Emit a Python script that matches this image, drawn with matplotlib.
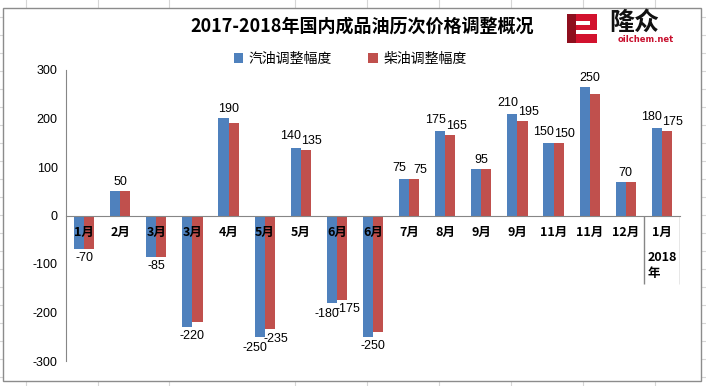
import matplotlib
matplotlib.use("Agg")
import matplotlib.pyplot as plt
from matplotlib.patches import Rectangle, Polygon
import numpy as np

plt.rcParams['font.family'] = ['Noto Sans CJK SC', 'DejaVu Sans']
plt.rcParams['axes.unicode_minus'] = False

# ---- data ----
TITLE = "2017-2018年国内成品油历次价格调整概况"
SERIES = ["汽油调整幅度", "柴油调整幅度"]
MONTHS = ["1月", "2月", "3月", "3月", "4月", "5月", "5月", "6月", "6月",
          "7月", "8月", "9月", "9月", "11月", "11月", "12月", "1月"]
YEAR_GROUP = "2018\n年"
GASOLINE = [-70, 50, -85, -230, 200, -250, 140, -180, -250,
            75, 175, 95, 210, 150, 265, 70, 180]
DIESEL = [-70, 50, -85, -220, 190, -235, 135, -175, -240,
          75, 165, 95, 195, 150, 250, 70, 175]
GAS_LABELS = ["-70", "50", "-85", "-220", "190", "-250", "140", "-180", "-250",
              "75", "175", "95", "210", "150", "250", "70", "180"]
DIESEL_LABELS = ["", "", "", "", "", "-235", "135", "-175", "",
                 "75", "165", "", "195", "150", "", "", "175"]
YTICKS = [-300, -200, -100, 0, 100, 200, 300]

C_BLUE = "#4F81BD"
C_RED = "#C0504D"
C_AXIS = "#868686"
C_SHEET = "#d6d6d6"

W, H = 706, 386
fig = plt.figure(figsize=(W / 100, H / 100), dpi=100)

# ---- spreadsheet backdrop + chart area (pixel coords) ----
bg = fig.add_axes([0, 0, 1, 1])
bg.set_xlim(0, W)
bg.set_ylim(H, 0)
bg.axis("off")
for x in [26, 98, 169, 295, 367, 439, 511, 583, 655]:
    bg.plot([x, x], [0, H], color=C_SHEET, lw=0.8)
for y in np.arange(17.3, H, 18):
    bg.plot([0, W], [y, y], color=C_SHEET, lw=0.8)
bg.add_patch(Rectangle((3, 8), 698, 373, facecolor="white",
                       edgecolor="#8c8c8c", lw=1.0, zorder=3))

# logo
bg.add_patch(Rectangle((567, 14), 30, 29, facecolor="#d2122e", lw=0, zorder=4))
bg.add_patch(Polygon([(567, 14), (576, 14), (576, 43), (567, 43)],
                     closed=True, facecolor="#8e0f1e", lw=0, zorder=4))
bg.add_patch(Rectangle((576, 21), 14, 4, facecolor="white", lw=0, zorder=5))
bg.add_patch(Rectangle((576, 30), 21, 4, facecolor="white", lw=0, zorder=5))
bg.text(609, 23, "隆众", fontsize=18, fontweight="bold", ha="left",
        va="center", color="#111111", zorder=5)
bg.text(646, 40, "oilchem.net", fontsize=6, fontweight="bold",
        ha="center", va="center", color="#c8102e",
        family=["DejaVu Sans"], zorder=5)

# ---- title ----
fig.text(0.513, 0.933, TITLE, ha="center", va="center",
         fontsize=13, fontweight="bold")

# ---- plot area ----
ax = fig.add_axes([66 / W, 1 - 361 / H, (680 - 66) / W, (361 - 70) / H])
ax.set_facecolor("none")
ax.set_zorder(6)
x = np.arange(len(MONTHS))
bw = 0.28
b1 = ax.bar(x - bw / 2, GASOLINE, bw, color=C_BLUE, label=SERIES[0])
b2 = ax.bar(x + bw / 2, DIESEL, bw, color=C_RED, label=SERIES[1])

ax.set_xlim(-0.5, len(MONTHS) - 0.5)
ax.set_ylim(-300, 300)
ax.set_yticks(YTICKS)
ax.set_xticks([])
ax.tick_params(axis="y", length=0, pad=6, labelsize=9)
for t in ax.get_yticklabels():
    t.set_fontfamily(["Liberation Sans"])
for s in ["top", "right"]:
    ax.spines[s].set_visible(False)
ax.spines["left"].set_color(C_AXIS)
ax.spines["bottom"].set_color(C_AXIS)
ax.spines["bottom"].set_position(("data", 0))

# category labels (multi-level axis)
for i, m in enumerate(MONTHS):
    ax.annotate(m, (i, 0), xytext=(0, -12), textcoords="offset points",
                ha="center", va="center", fontsize=9, fontweight="bold")
ax.annotate(YEAR_GROUP, (len(MONTHS) - 1, 0), xytext=(0, -36),
            textcoords="offset points", ha="center", va="center",
            multialignment="left", fontsize=9, fontweight="bold",
            linespacing=1.3)
ax.vlines([len(MONTHS) - 1.5, len(MONTHS) - 0.5], 0.265, 0.5,
          transform=ax.get_xaxis_transform(), color=C_AXIS, lw=1)


# data labels
def put_label(txt, xc, val, dx, dy):
    sign = 1 if val >= 0 else -1
    ax.annotate(txt, (xc, val), xytext=(dx, sign * dy),
                textcoords="offset points", ha="center", va="center",
                fontsize=9, family=["Liberation Sans"])


for i in range(len(MONTHS)):
    g, d = GAS_LABELS[i], DIESEL_LABELS[i]
    if g and d:
        put_label(g, i - bw / 2, GASOLINE[i], -3.6, 8)
        put_label(d, i + bw / 2, DIESEL[i], 4.3, 6.5)
    elif g:
        put_label(g, i, GASOLINE[i], 0, 6.5)

fig.legend(handles=[b1, b2], labels=SERIES, loc="center",
           bbox_to_anchor=(0.496, 0.847), ncol=2, frameon=False,
           fontsize=10, handlelength=0.7, handleheight=0.7,
           columnspacing=2.6, handletextpad=0.4)

fig.savefig("out.png", dpi=100)
